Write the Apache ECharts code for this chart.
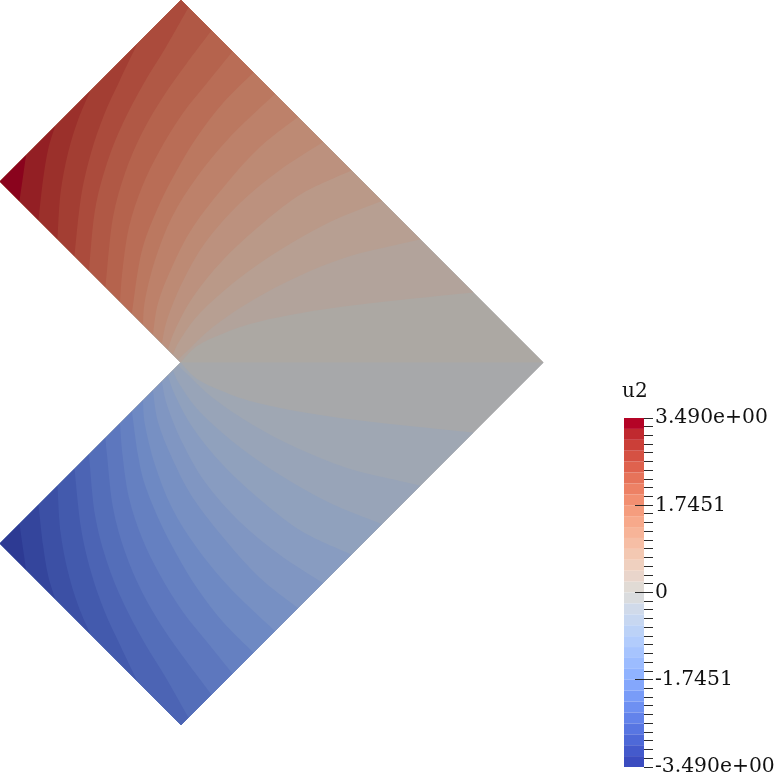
<!DOCTYPE html>
<html>
<head>
<meta charset="utf-8">
<style>
  html, body { margin: 0; padding: 0; background: #fff; }
  #main { width: 774px; height: 773px; }
</style>
<script src="https://cdn.jsdelivr.net/npm/echarts@6/dist/echarts.min.js"></script>
</head>
<body>
<div id="main"></div>
<script>
// outline corners of the two halves, in picture units
const tipTop = [181, 0];
const tipRight = [543.5, 362.5];
const tipBottom = [181, 725];
const armTop = [0, 181.5];
const armBottom = [0, 543.5];
const innerCorner = [180.5, 362.5];
const outline = [tipTop, tipRight, tipBottom, armBottom, innerCorner, armTop];

// contour lines, from near zero out to the extreme
const upperLines = [
  [tipRight, innerCorner],
  [[473.5,292.5],[400,300],[340,307],[290,315],[250,324],[222,334],[197,346],innerCorner],
  [[420.5,239.5],[400,244],[347,257],[297,277],[253,300],[213,327],[185,353],[178,359.5]],
  [[382,201],[330,222],[280,250],[237,280],[200,313],[180,340],[173,354.5]],
  [[351.5,170.5],[303,193],[263,223],[223,260],[193,297],[175,330],[168,349.5]],
  [[323,142],[280,170],[240,203],[205,243],[182,283],[167,320],[162,343.5]],
  [[298,117],[260,147],[227,183],[193,227],[172,267],[158,303],[153,334.5]],
  [[275,94],[230,137],[197,177],[172,217],[155,260],[145,300],[143,324.5]],
  [[253.5,72.5],[223,103],[197,137],[177,170],[160,203],[145,240],[138,270],[132,313.5]],
  [[232.5,51.5],[207,83],[183,113],[160,150],[142,187],[129,227],[122.5,270],[120,301.5]],
  [[211.5,30.5],[187,63],[163,97],[142,133],[125,173],[113,217],[107,270],[105.5,287]],
  [[188.5,7.5],[166,47],[144,83],[123,123],[107,163],[95,210],[89,270.5]],
  [[137,44.5],[120,80],[104,115],[91,153],[81,197],[74.5,256]],
  [[90,91.5],[78,120],[68,153],[60.5,193],[57.5,239]],
  [[55,126.5],[48,150],[43,180],[38.5,220]],
  [[26,155.5],[23.5,173],[19.5,201]],
];
const lowerLines = [
  [tipRight, innerCorner],
  [[473.5,432.5],[400,425],[340,418],[290,410],[250,401],[222,391],[197,379],innerCorner],
  [[420.5,485.5],[400,481],[347,468],[297,448],[253,425],[213,398],[185,372],[178,365.5]],
  [[382,524],[330,503],[280,475],[237,445],[200,412],[180,385],[173,370.5]],
  [[351.5,554.5],[303,532],[263,502],[223,465],[193,428],[175,395],[168,375.5]],
  [[323,583],[280,555],[240,522],[205,482],[182,442],[167,405],[162,381.5]],
  [[298,608],[260,578],[227,542],[193,498],[172,458],[158,422],[153,390.5]],
  [[275,631],[230,588],[197,548],[172,508],[155,465],[145,425],[143,400.5]],
  [[253.5,652.5],[223,622],[197,588],[177,555],[160,522],[145,485],[138,455],[132,411.5]],
  [[232.5,673.5],[207,642],[183,612],[160,575],[142,538],[129,498],[122.5,455],[120,423.5]],
  [[211.5,694.5],[187,662],[163,628],[142,592],[125,552],[113,508],[107,455],[105.5,438]],
  [[188.5,717.5],[166,678],[144,642],[123,602],[107,562],[95,515],[89,454.5]],
  [[137,680.5],[120,645],[104,610],[91,572],[81,528],[74.5,469]],
  [[90,633.5],[78,605],[68,572],[60.5,532],[57.5,486]],
  [[55,598.5],[48,575],[43,545],[38.5,505]],
  [[26,569.5],[23.5,552],[19.5,524]],
];

// colour bar bands, same order as the lines above
const upperColors = [
  [225,219,213],[233,213,203],[239,208,191],[243,200,178],
  [246,190,165],[247,180,152],[247,169,139],[245,157,126],
  [242,143,113],[237,129,101],[230,115,90],[223,98,78],
  [213,81,67],[203,63,56],[192,41,47],[180,4,38],
];
const lowerColors = [
  [218,220,222],[208,218,234],[199,215,241],[188,210,247],
  [178,204,252],[167,196,254],[156,188,255],[144,179,255],
  [132,167,252],[121,156,248],[110,144,242],[99,131,235],
  [88,118,226],[78,105,216],[68,90,204],[59,76,192],
];
// band edges on the colour scale, from zero outwards
const bandEdges = [
  0, 0.2181, 0.4363, 0.6544, 0.8726, 1.0907, 1.3088, 1.5270, 1.7451,
  1.9632, 2.1814, 2.3995, 2.6177, 2.8358, 3.0539, 3.2721, 3.4902,
];
const shortTickValues = [
  -3.4902, -3.3157, -3.1412, -2.9667, -2.7922, -2.6177, -2.4431, -2.2686, -2.0941, -1.9196,
  -1.5706, -1.3961, -1.2216, -1.0471, -0.8726, -0.6980, -0.5235, -0.3490, -0.1745,
  0.1745, 0.3490, 0.5235, 0.6980, 0.8726, 1.0471, 1.2216, 1.3961, 1.5706,
  1.9196, 2.0941, 2.2686, 2.4431, 2.6177, 2.7922, 2.9667, 3.1412, 3.3157, 3.4902,
];
const longTickValues = [-1.7451, 0, 1.7451];
const labelValues = [-3.4902, -1.7451, 0, 1.7451, 3.4902];
const labelTexts = ["-3.490e+00", "-1.7451", "0", "1.7451", "3.490e+00"];

// surface lighting in the 3D view dims the map colours
const shade = 0.765;
function rgb(c, k) {
  return "rgb(" + c.map((v) => Math.round(v * k)).join(",") + ")";
}

// smooth path through a contour, then straight along the outline back to the start
function contourPath(api, line, closing) {
  const p = line.map((d) => api.coord(d));
  let d = "M" + p[0][0] + " " + p[0][1];
  for (let i = 0; i < p.length - 1; i++) {
    const a = p[Math.max(i - 1, 0)];
    const b = p[i];
    const c = p[i + 1];
    const e = p[Math.min(i + 2, p.length - 1)];
    d += "C" + (b[0] + (c[0] - a[0]) / 6) + " " + (b[1] + (c[1] - a[1]) / 6) + " " +
      (c[0] - (e[0] - b[0]) / 6) + " " + (c[1] - (e[1] - b[1]) / 6) + " " +
      c[0] + " " + c[1];
  }
  closing.forEach((v) => {
    const q = api.coord(v);
    d += "L" + q[0] + " " + q[1];
  });
  return d + "Z";
}

function outlineSeries() {
  return {
    type: "custom",
    coordinateSystem: "cartesian2d",
    xAxisIndex: 0,
    yAxisIndex: 0,
    silent: true,
    data: [[0]],
    renderItem: (params, api) => ({
      type: "polygon",
      shape: { points: outline.map((d) => api.coord(d)) },
      style: { fill: rgb(lowerColors[0], shade) },
    }),
  };
}

function bandSeries(lines, colors, armCorner, tipCorner) {
  return {
    type: "custom",
    coordinateSystem: "cartesian2d",
    xAxisIndex: 0,
    yAxisIndex: 0,
    silent: true,
    data: lines.map((line, i) => [i]),
    renderItem: (params, api) => {
      const i = params.dataIndex;
      // the four outermost lines cut only the arm corner
      const closing = i > 11 ? [armCorner] : [armCorner, tipCorner];
      return {
        type: "path",
        shape: { pathData: contourPath(api, lines[i], closing) },
        style: { fill: rgb(colors[i], shade) },
      };
    },
  };
}

function barSeries(colors, sign) {
  return {
    type: "custom",
    coordinateSystem: "cartesian2d",
    xAxisIndex: 1,
    yAxisIndex: 1,
    silent: true,
    data: colors.map((c, i) => [i]),
    renderItem: (params, api) => {
      const i = params.dataIndex;
      const a = api.coord([0, sign * bandEdges[i]]);
      const b = api.coord([1, sign * bandEdges[i + 1]]);
      return {
        type: "rect",
        shape: { x: a[0], y: Math.min(a[1], b[1]), width: b[0] - a[0], height: Math.abs(b[1] - a[1]) },
        style: { fill: rgb(colors[i], 1) },
      };
    },
  };
}

// x runs 0..1 across the bar, so ticks past 1 stick out to the right of it
function tickSeries(values, from, to) {
  return {
    type: "custom",
    coordinateSystem: "cartesian2d",
    xAxisIndex: 1,
    yAxisIndex: 1,
    silent: true,
    clip: false,
    z: 6,
    data: values.map((v) => [v]),
    renderItem: (params, api) => {
      const a = api.coord([from, api.value(0)]);
      const b = api.coord([to, api.value(0)]);
      const y = Math.floor(a[1]) + 0.5;
      return {
        type: "line",
        shape: { x1: a[0], y1: y, x2: b[0], y2: y },
        style: { stroke: tickColor, lineWidth: 1 },
      };
    },
  };
}

const labelFont = "DejaVu Serif";
const tickColor = "#2a2a2a";
const chart = echarts.init(document.getElementById("main"), null, { renderer: "canvas" });
chart.setOption({
  animation: false,
  backgroundColor: "#fff",
  title: {
    text: "u2",
    left: 622,
    top: 382,
    padding: 0,
    textStyle: { fontFamily: labelFont, fontSize: 20, fontWeight: "normal", color: "#111" },
  },
  grid: [
    { left: 0, top: 0, width: 774, height: 773, outerBoundsMode: "none" },
    { left: 624, top: 418, width: 20, height: 349, outerBoundsMode: "none" },
  ],
  xAxis: [
    { type: "value", min: 0, max: 774, show: false },
    { type: "value", min: 0, max: 1, show: false, gridIndex: 1 },
  ],
  yAxis: [
    { type: "value", min: 0, max: 773, inverse: true, show: false },
    {
      type: "value",
      gridIndex: 1,
      min: -3.4902,
      max: 3.4902,
      interval: 0.17451,
      position: "right",
      z: 5,
      splitLine: { show: false },
      axisLine: { show: false },
      axisTick: { show: false },
      axisLabel: {
        show: true,
        customValues: labelValues,
        formatter: (v) => labelTexts[labelValues.indexOf(v)],
        fontFamily: labelFont,
        fontSize: 20.3,
        color: "#111",
        margin: 11,
        align: "left",
        padding: [0, 0, 6, 0],
        hideOverlap: false,
      },
    },
  ],
  series: [
    outlineSeries(),
    bandSeries(lowerLines, lowerColors, armBottom, tipBottom),
    bandSeries(upperLines, upperColors, armTop, tipTop),
    barSeries(upperColors, 1),
    barSeries(lowerColors, -1),
    tickSeries(shortTickValues, 1, 1.45),
    tickSeries(longTickValues, 0.55, 1.45),
  ],
});
</script>
</body>
</html>
